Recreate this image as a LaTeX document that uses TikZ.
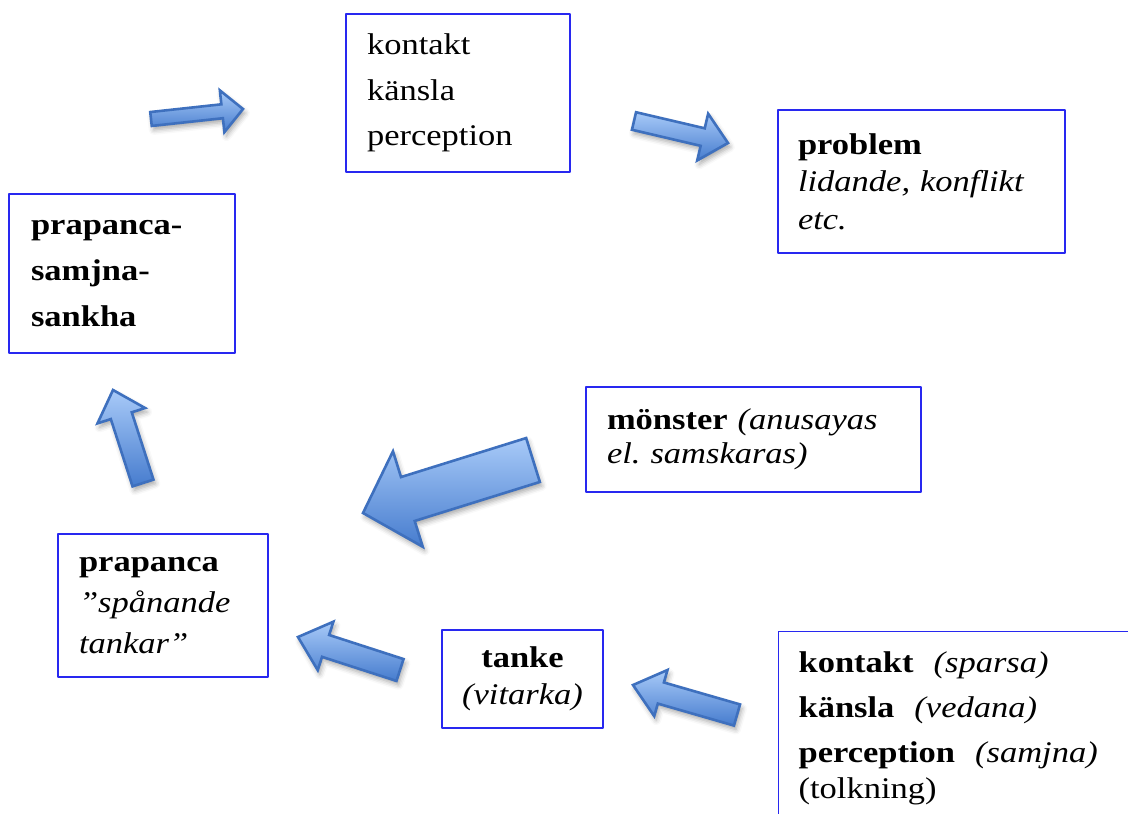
\documentclass[tikz,border=0pt]{standalone}
\usepackage{fontspec}
\setmainfont{Liberation Serif}[FakeStretch=1.15]
\usetikzlibrary{calc,shadows.blur}
\definecolor{boxblue}{RGB}{40,40,240}
\definecolor{arrowlight}{RGB}{168,202,248}
\definecolor{arrowdark}{RGB}{70,124,206}
\definecolor{arrowline}{RGB}{62,112,190}
\frenchspacing
\begin{document}
\begin{tikzpicture}[x=1pt, y=-1pt, line join=round, line cap=round,
	box/.style={draw=boxblue, line width=1.2pt, inner xsep=21pt, inner ysep=0pt, align=left},
	fatarrow/.style={draw=arrowline, line width=2.6pt, line join=miter, top color=arrowlight, bottom color=arrowdark,
		blur shadow={shadow xshift=2pt, shadow yshift=-4pt, shadow blur radius=5pt, shadow opacity=35}}]
		\useasboundingbox (0,0) rectangle (1128,814);
		% boxes
		\node[box, text width=182pt, minimum height=158pt, font=\fontsize{30}{45.5}\selectfont] (perc) at (458,93)
		{kontakt\\känsla\\perception};
		\node[box, inner xsep=20pt, text width=247pt, minimum height=143pt, font=\fontsize{30}{37.5}\selectfont] (problem) at (921.5,181.5)
		{\textbf{problem}\\\textit{lidande, konflikt}\\\textit{etc.}};
		\node[box, inner xsep=22pt, text width=182pt, minimum height=159pt, font=\fontsize{30}{46}\selectfont] (sankha) at (122,273.5)
		{\textbf{prapanca-}\\\textbf{samjna-}\\\textbf{sankha}};
		\node[box, text width=293pt, minimum height=105pt, font=\fontsize{30}{34}\selectfont] (monster) at (753.5,439.5)
		{\textbf{mönster} \textit{(anusayas}\\\textit{el. samskaras)}};
		\node[box, text width=168pt, minimum height=143pt, font=\fontsize{30}{41}\selectfont] (prap) at (163,605.5)
		{\textbf{prapanca}\\\textit{”spånande}\\\textit{tankar”}};
		\node[box, inner xsep=15pt, text width=131pt, minimum height=98pt, align=center, font=\fontsize{30}{37}\selectfont] (tanke) at (522.5,679)
		{\textbf{tanke}\\\textit{(vitarka)}};
		\node[box, inner xsep=20pt, inner ysep=20pt, text width=400pt, anchor=north west, font=\fontsize{30}{45}\selectfont] (sense) at (778,631)
		{\textbf{kontakt}~~\textit{(sparsa)}\\\textbf{känsla}~~\textit{(vedana)}\\\textbf{perception}~~\textit{(samjna)}\\[-9pt](tolkning)};
		% block arrows: tail and tip
		\coordinate (sp-tail) at (151,119);  \coordinate (sp-tip) at (243,109);
		\coordinate (pp-tail) at (634,121);  \coordinate (pp-tip) at (728,143);
		\coordinate (ps-tail) at (143,483);  \coordinate (ps-tip) at (113,390);
		\coordinate (mp-tail) at (533,460);  \coordinate (mp-tip) at (363,513);
		\coordinate (tp-tail) at (400,670);  \coordinate (tp-tip) at (298,637);
		\coordinate (st-tail) at (737,715);  \coordinate (st-tip) at (633,685);
		\foreach \a/\sw/\hw/\hl in {sp/7/21/21, pp/9/24/26, ps/11/25/27, mp/23/50/47, tp/11.5/25.5/29, st/11/24/29}{
			\coordinate (neck) at ($(\a-tip)!\hl pt!(\a-tail)$);
			\path[fatarrow] ($(\a-tail)!\sw pt!90:(\a-tip)$) -- ($(neck)!\sw pt!90:(\a-tip)$)
			-- ($(neck)!\hw pt!90:(\a-tip)$) -- (\a-tip) -- ($(neck)!\hw pt!-90:(\a-tip)$)
			-- ($(neck)!\sw pt!-90:(\a-tip)$) -- ($(\a-tail)!\sw pt!-90:(\a-tip)$) -- cycle;
		}
\end{tikzpicture}
\end{document}
